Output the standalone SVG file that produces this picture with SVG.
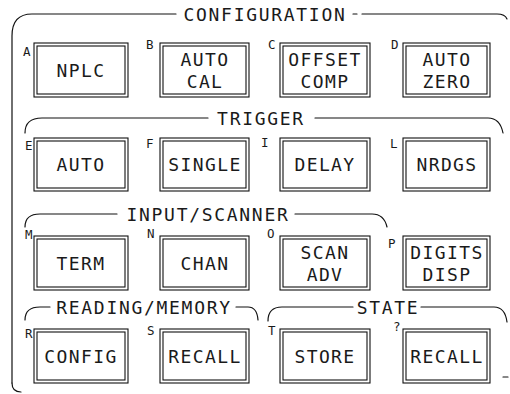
<svg xmlns="http://www.w3.org/2000/svg" width="510" height="394" viewBox="0 0 510 394">
<style>
.ln{fill:none;stroke:#111;stroke-width:1.2;stroke-linecap:round}
.bx{fill:none;stroke:#111;stroke-width:1.1}
.t{font-family:"DejaVu Sans Mono","Liberation Mono",monospace;font-size:18px;letter-spacing:1.4px;fill:#1a1a1a;text-anchor:middle}
.h{font-family:"DejaVu Sans Mono","Liberation Mono",monospace;font-size:18px;letter-spacing:1.7px;fill:#1a1a1a;text-anchor:middle}
.k{font-family:"DejaVu Sans Mono","Liberation Mono",monospace;font-size:12.5px;fill:#1a1a1a}
</style>
<rect width="510" height="394" fill="#fff"/>
<g id="frames">
<path class="ln" d="M12,383 L12,36 Q12,14 32,14 L176,14"/>
<path class="ln" d="M353,14 L357,14 M362,14 L497,14 Q505,14 507,19"/>
<path class="ln" d="M12,383 Q12,392 21,392"/>
<path class="ln" d="M503,377 L508,377"/>
<path class="ln" d="M25,133 Q25,118 42,118 L208,118 M315,118 L488,118 Q500,118 503,133"/>
<path class="ln" d="M25,227 Q25,214 40,214 L117,214 M295,214 L372,214 Q384,214 387,227"/>
<path class="ln" d="M25,320 Q25,307 40,307 L50,307 M236,307 L248,307 Q257,307 258,320"/>
<path class="ln" d="M268,321 Q268,307 282,307 L353,307 M421,307 L494,307 Q505,307 507,322"/>
<text class="h" x="265" y="20.5">CONFIGURATION</text>
<text class="h" x="261" y="124.5">TRIGGER</text>
<text class="h" x="208" y="220.5">INPUT/SCANNER</text>
<text class="h" x="144" y="313.5">READING/MEMORY</text>
<text class="h" x="388" y="313.5">STATE</text>
</g>
<g id="btnA"><rect class="bx" x="34" y="43" width="94" height="54"/><rect class="bx" x="37" y="46" width="88" height="48"/><text class="t" x="81" y="76.5">NPLC</text><text class="k" x="23" y="56">A</text></g>
<g id="btnB"><rect class="bx" x="160" y="43" width="89" height="54"/><rect class="bx" x="163" y="46" width="83" height="48"/><text class="t" x="205" y="65.5">AUTO</text><text class="t" x="205" y="87.5">CAL</text><text class="k" x="146" y="49">B</text></g>
<g id="btnC"><rect class="bx" x="280" y="43" width="90" height="54"/><rect class="bx" x="283" y="46" width="84" height="48"/><text class="t" x="325" y="65.5">OFFSET</text><text class="t" x="325" y="87.5">COMP</text><text class="k" x="268" y="49">C</text></g>
<g id="btnD"><rect class="bx" x="403" y="43" width="87" height="54"/><rect class="bx" x="406" y="46" width="81" height="48"/><text class="t" x="447" y="65.5">AUTO</text><text class="t" x="447" y="87.5">ZERO</text><text class="k" x="391" y="49">D</text></g>

<g id="btnE"><rect class="bx" x="34" y="138" width="94" height="53"/><rect class="bx" x="37" y="141" width="88" height="47"/><text class="t" x="81" y="171">AUTO</text><text class="k" x="25" y="150">E</text></g>
<g id="btnF"><rect class="bx" x="160" y="138" width="89" height="53"/><rect class="bx" x="163" y="141" width="83" height="47"/><text class="t" x="205" y="171">SINGLE</text><text class="k" x="146" y="148">F</text></g>
<g id="btnI"><rect class="bx" x="280" y="138" width="90" height="53"/><rect class="bx" x="283" y="141" width="84" height="47"/><text class="t" x="325" y="171">DELAY</text><text class="k" x="261" y="147">I</text></g>
<g id="btnL"><rect class="bx" x="403" y="138" width="87" height="53"/><rect class="bx" x="406" y="141" width="81" height="47"/><text class="t" x="447" y="171">NRDGS</text><text class="k" x="390" y="148">L</text></g>

<g id="btnM"><rect class="bx" x="34" y="236" width="94" height="54"/><rect class="bx" x="37" y="239" width="88" height="48"/><text class="t" x="81" y="269.5">TERM</text><text class="k" x="25" y="239">M</text></g>
<g id="btnN"><rect class="bx" x="160" y="236" width="89" height="54"/><rect class="bx" x="163" y="239" width="83" height="48"/><text class="t" x="205" y="269.5">CHAN</text><text class="k" x="147" y="238">N</text></g>
<g id="btnO"><rect class="bx" x="280" y="236" width="90" height="54"/><rect class="bx" x="283" y="239" width="84" height="48"/><text class="t" x="325" y="258.5">SCAN</text><text class="t" x="325" y="280.5">ADV</text><text class="k" x="267" y="238">O</text></g>
<g id="btnP"><rect class="bx" x="403" y="236" width="87" height="54"/><rect class="bx" x="406" y="239" width="81" height="48"/><text class="t" x="447" y="258.5">DIGITS</text><text class="t" x="447" y="280.5">DISP</text><text class="k" x="388" y="248">P</text></g>

<g id="btnR"><rect class="bx" x="34" y="329" width="94" height="54"/><rect class="bx" x="37" y="332" width="88" height="48"/><text class="t" x="81" y="362.5">CONFIG</text><text class="k" x="25" y="338">R</text></g>
<g id="btnS"><rect class="bx" x="160" y="329" width="89" height="54"/><rect class="bx" x="163" y="332" width="83" height="48"/><text class="t" x="205" y="362.5">RECALL</text><text class="k" x="147" y="335">S</text></g>
<g id="btnT"><rect class="bx" x="280" y="329" width="90" height="54"/><rect class="bx" x="283" y="332" width="84" height="48"/><text class="t" x="325" y="362.5">STORE</text><text class="k" x="268" y="335">T</text></g>
<g id="btnQ"><rect class="bx" x="403" y="329" width="87" height="54"/><rect class="bx" x="406" y="332" width="81" height="48"/><text class="t" x="447" y="362.5">RECALL</text><text class="k" x="393" y="331">?</text></g>
</svg>
